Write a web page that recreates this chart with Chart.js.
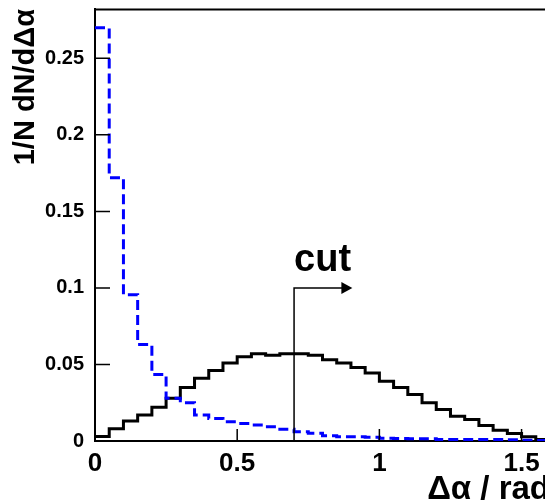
<!DOCTYPE html>
<html lang="en">
<head>
    <meta charset="UTF-8">
    <title>Delta alpha distribution</title>
    <script src="https://cdn.jsdelivr.net/npm/chart.js"></script>
    <style>
        html, body { margin: 0; padding: 0; background: #fff; overflow: hidden; }
        #wrap { width: 545px; height: 503px; overflow: hidden; }
        #box { width: 560px; height: 503px; }
    </style>
</head>
<body>
    <div id="wrap"><div id="box"><canvas id="hist"></canvas></div></div>

    <script>
        // bin lower edges (rad), last bin closes at binEnd
        const binLow = [0, 0.05, 0.1, 0.15, 0.2, 0.25, 0.3, 0.35, 0.4, 0.45, 0.5, 0.55, 0.6, 0.65, 0.7, 0.75,
                        0.8, 0.85, 0.9, 0.95, 1.0, 1.05, 1.1, 1.15, 1.2, 1.25, 1.3, 1.35, 1.4, 1.45, 1.5, 1.55];
        const binEnd = 1.6;

        // solid black histogram
        const blackHist = [0.003, 0.008, 0.013, 0.017, 0.022, 0.028, 0.035, 0.041, 0.046, 0.051, 0.055, 0.057,
                           0.056, 0.057, 0.057, 0.056, 0.053, 0.051, 0.048, 0.0445, 0.039, 0.035, 0.0304, 0.025,
                           0.0206, 0.0162, 0.014, 0.0101, 0.007, 0.0049, 0.0027, 0.001];

        // dashed blue histogram
        const blueHist = [0.270, 0.172, 0.0955, 0.063, 0.0435, 0.028, 0.025, 0.017, 0.0147, 0.0125, 0.0115, 0.0105,
                          0.0093, 0.0076, 0.006, 0.005, 0.0035, 0.0028, 0.0027, 0.0025, 0.0018, 0.0016, 0.0015, 0.0014,
                          0.001, 0.001, 0.001, 0.001, 0.001, 0.0008, 0.0005, 0.0003];

        const xTicks = [0, 0.5, 1, 1.5];
        const yTicks = [0, 0.05, 0.1, 0.15, 0.2, 0.25];

        // cut marker
        const cutX = 0.7;
        const cutTop = 0.1;
        const cutArrowEnd = 0.905;
        const cutLabel = 'cut';
        const cutLabelY = 0.11;

        Chart.defaults.font.family = '"Liberation Sans", Arial, sans-serif';
        Chart.defaults.color = '#000';

        function toSteps(values) {
            const pts = binLow.map((x, i) => ({ x: x, y: values[i] }));
            pts.push({ x: binEnd, y: values[values.length - 1] });
            return pts;
        }

        // ROOT style frame: top line + ticks pointing inside
        const frame = {
            id: 'frame',
            afterDraw(chart) {
                const { ctx, chartArea: a, scales: { x, y } } = chart;
                ctx.save();
                ctx.strokeStyle = '#000';
                ctx.lineWidth = 2;
                ctx.beginPath();
                ctx.moveTo(a.left, a.top + 0.5);
                ctx.lineTo(a.right + 20, a.top + 0.5);
                ctx.stroke();
                ctx.lineWidth = 1.5;
                ctx.beginPath();
                xTicks.forEach(v => {
                    const px = x.getPixelForValue(v);
                    ctx.moveTo(px, a.bottom);
                    ctx.lineTo(px, a.bottom - 12);
                });
                yTicks.forEach(v => {
                    const py = y.getPixelForValue(v);
                    ctx.moveTo(a.left, py);
                    ctx.lineTo(a.left + 15, py);
                });
                ctx.stroke();
                ctx.restore();
            }
        };

        const cutMarker = {
            id: 'cutMarker',
            afterDatasetsDraw(chart) {
                const { ctx, scales: { x, y } } = chart;
                const x0 = x.getPixelForValue(cutX);
                const y0 = y.getPixelForValue(0);
                const y1 = y.getPixelForValue(cutTop);
                const x1 = x.getPixelForValue(cutArrowEnd);
                ctx.save();
                ctx.strokeStyle = '#000';
                ctx.fillStyle = '#000';
                ctx.lineWidth = 1.5;
                ctx.beginPath();
                ctx.moveTo(x0, y0);
                ctx.lineTo(x0, y1);
                ctx.lineTo(x1 - 9, y1);
                ctx.stroke();
                ctx.beginPath();
                ctx.moveTo(x1, y1);
                ctx.lineTo(x1 - 11, y1 - 6);
                ctx.lineTo(x1 - 11, y1 + 6);
                ctx.closePath();
                ctx.fill();
                ctx.font = 'bold 38px "Liberation Sans", Arial, sans-serif';
                ctx.textBaseline = 'alphabetic';
                ctx.fillText(cutLabel, x0, y.getPixelForValue(cutLabelY) - 2);
                ctx.restore();
            }
        };

        new Chart(document.getElementById('hist'), {
            type: 'line',
            data: {
                datasets: [{
                    label: 'dashed',
                    data: toSteps(blueHist),
                    stepped: 'before',
                    borderColor: '#0000ff',
                    borderWidth: 3,
                    borderDash: [10, 5],
                    pointRadius: 0,
                    fill: false
                }, {
                    label: 'solid',
                    data: toSteps(blackHist),
                    stepped: 'before',
                    borderColor: '#000',
                    borderWidth: 3,
                    pointRadius: 0,
                    fill: false
                }]
            },
            options: {
                responsive: true,
                maintainAspectRatio: false,
                animation: false,
                layout: { padding: { top: 9, right: 10, left: 0, bottom: 0 } },
                plugins: {
                    legend: { display: false },
                    tooltip: { enabled: false }
                },
                scales: {
                    x: {
                        type: 'linear',
                        min: 0,
                        max: binEnd,
                        afterFit(s) {
                            s.height = 62;
                            s.paddingLeft = 0;
                            s.paddingRight = 0;
                        },
                        grid: { display: false, drawTicks: false },
                        border: { display: true, color: '#000', width: 2 },
                        afterBuildTicks(s) { s.ticks = xTicks.map(v => ({ value: v })); },
                        ticks: {
                            padding: 7,
                            font: { size: 26, weight: 'bold' },
                            callback: v => String(v)
                        },
                        title: {
                            display: true,
                            text: '\u0394\u03b1 / rad',
                            align: 'end',
                            font: { size: 33, weight: 'bold', lineHeight: 0.8 },
                            padding: { top: 0, bottom: 0 }
                        }
                    },
                    y: {
                        min: 0,
                        max: 0.2822,
                        afterFit(s) {
                            s.width = 95;
                            s.paddingTop = 0;
                            s.paddingBottom = 0;
                        },
                        grid: { display: false, drawTicks: false },
                        border: { display: true, color: '#000', width: 2 },
                        afterBuildTicks(s) { s.ticks = yTicks.map(v => ({ value: v })); },
                        ticks: {
                            padding: 11,
                            font: { size: 20, weight: 'bold' },
                            callback: v => String(v)
                        },
                        title: {
                            display: true,
                            text: '1/N dN/d\u0394\u03b1',
                            align: 'end',
                            font: { size: 29, weight: 'bold', lineHeight: 1.2 },
                            padding: { top: 9, bottom: 0 }
                        }
                    }
                }
            },
            plugins: [frame, cutMarker]
        });
    </script>
</body>
</html>
